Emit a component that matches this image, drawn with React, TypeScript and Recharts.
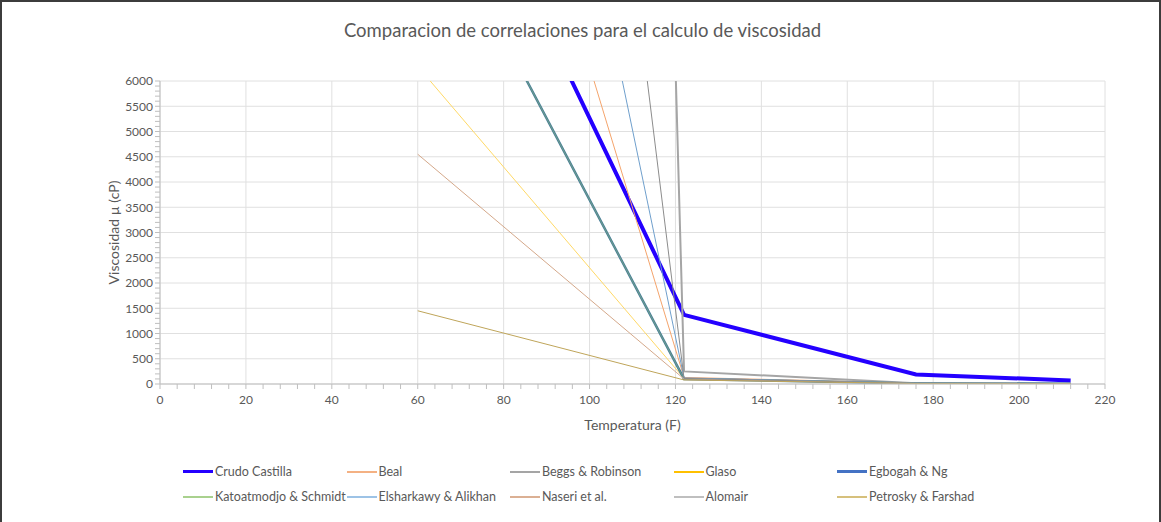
import React from 'react';
import { LineChart, Line, XAxis, YAxis, CartesianGrid } from 'recharts';

const temperatures = [60, 122, 176, 212];

const crudoCastilla = [12350, 1370, 190, 70];
const beal = [17500, 130, 20, 8];
const beggsRobinson = [188000, 250, 15, 6];
const glaso = [6290, 110, 18, 7];
const egbogahNg = [10100, 100, 12, 5];
const katoatmodjoSchmidt = [10100, 100, 12, 5];
const elsharkawyAlikhan = [25500, 120, 15, 6];
const naseri = [4550, 100, 10, 4];
const alomair = [42800, 110, 14, 5];
const petroskyFarshad = [1450, 80, 10, 4];

const xTicks = Array.from({ length: 56 }, (_, i) => i * 4);
const yTicks = Array.from({ length: 61 }, (_, i) => i * 100);
const xMajor = [0, 20, 40, 60, 80, 100, 120, 140, 160, 180, 200, 220];
const yMajor = [0, 500, 1000, 1500, 2000, 2500, 3000, 3500, 4000, 4500, 5000, 5500, 6000];

const series = [
  { key: 'crudo', name: 'Crudo Castilla', values: crudoCastilla, color: '#2400ff', legendColor: '#2400ff', width: 4 },
  { key: 'beal', name: 'Beal', values: beal, color: '#f4a46c', legendColor: '#f4b183', width: 1 },
  { key: 'beggs', name: 'Beggs & Robinson', values: beggsRobinson, color: '#a5a5a5', legendColor: '#a5a5a5', width: 2 },
  { key: 'glaso', name: 'Glaso', values: glaso, color: '#ffd966', legendColor: '#ffc000', width: 1 },
  { key: 'egbogah', name: 'Egbogah & Ng', values: egbogahNg, color: '#4a7f9a', legendColor: '#4472c4', width: 2.5 },
  { key: 'katoatmodjo', name: 'Katoatmodjo & Schmidt', values: katoatmodjoSchmidt, color: '#6f9f8a', legendColor: '#a9d18e', width: 1 },
  { key: 'elsharkawy', name: 'Elsharkawy & Alikhan', values: elsharkawyAlikhan, color: '#6f9fcc', legendColor: '#9dc3e6', width: 1 },
  { key: 'naseri', name: 'Naseri et al.', values: naseri, color: '#d4a88a', legendColor: '#dbb094', width: 1 },
  { key: 'alomair', name: 'Alomair', values: alomair, color: '#8c8c8c', legendColor: '#bfbfbf', width: 1 },
  { key: 'petrosky', name: 'Petrosky & Farshad', values: petroskyFarshad, color: '#bfa55a', legendColor: '#d6c07c', width: 1 },
];

const data = temperatures.map((t, i) => {
  const row: Record<string, number> = { t };
  series.forEach((s) => {
    row[s.key] = s.values[i];
  });
  return row;
});

const FONT = 'Lato, "Open Sans", sans-serif';
const TEXT = '#595959';

export default function App() {
  return (
    <div
      style={{
        position: 'absolute',
        left: 0,
        top: 0,
        width: 1161,
        height: 522,
        background: '#fff',
        boxSizing: 'border-box',
        borderTop: '2px solid #3c3c3c',
        borderLeft: '2px solid #3c3c3c',
        borderRight: '2px solid #3c3c3c',
        fontFamily: FONT,
        overflow: 'hidden',
      }}
    >
      <div
        style={{
          position: 'absolute',
          top: 17,
          left: 0,
          width: 1161,
          textAlign: 'center',
          fontSize: 18.5,
          color: TEXT,
        }}
      >
        Comparacion de correlaciones para el calculo de viscosidad
      </div>
      <div style={{ position: 'absolute', left: -2, top: -2 }}>
        <LineChart
          width={1161}
          height={522}
          data={data}
          margin={{ top: 81, right: 56, left: 100, bottom: 108 }}
        >
          <CartesianGrid
            stroke="#e0e0e0"
            verticalCoordinatesGenerator={({ xAxis, offset }: any) =>
              xMajor.map((v) =>
                typeof xAxis?.scale === 'function'
                  ? xAxis.scale(v)
                  : offset.left + (offset.width * v) / 220
              )
            }
            horizontalCoordinatesGenerator={({ yAxis, offset }: any) =>
              yMajor.map((v) =>
                typeof yAxis?.scale === 'function'
                  ? yAxis.scale(v)
                  : offset.top + offset.height * (1 - v / 6000)
              )
            }
          />
          <XAxis
            dataKey="t"
            type="number"
            domain={[0, 220]}
            ticks={xTicks}
            interval={0}
            tickFormatter={(v: number) => (v % 20 === 0 ? String(v) : '')}
            stroke="#bfbfbf"
            tickSize={5}
            tickMargin={6}
            tick={{ fill: TEXT, fontSize: 12, fontFamily: FONT }}
            height={30}
            label={{ value: 'Temperatura (F)', position: 'insideBottom', offset: -16, fill: TEXT, fontSize: 14, fontFamily: FONT }}
          />
          <YAxis
            type="number"
            domain={[0, 6000]}
            allowDataOverflow
            ticks={yTicks}
            interval={0}
            tickFormatter={(v: number) => (v % 500 === 0 ? String(v) : '')}
            stroke="#bfbfbf"
            tickSize={5}
            tick={{ fill: TEXT, fontSize: 12, fontFamily: FONT }}
            width={60}
            label={{ value: 'Viscosidad µ (cP)', angle: -90, position: 'insideLeft', offset: 14, fill: TEXT, fontSize: 14, fontFamily: FONT, style: { textAnchor: 'middle' } }}
          />
          {series.map((s) => (
            <Line
              key={s.key}
              type="linear"
              dataKey={s.key}
              name={s.name}
              stroke={s.color}
              strokeWidth={s.width}
              dot={false}
              activeDot={false}
              isAnimationActive={false}
            />
          ))}
        </LineChart>
      </div>
      <div
        style={{
          position: 'absolute',
          left: 181,
          top: 461,
          width: 900,
          display: 'grid',
          gridTemplateColumns: 'repeat(5, 163.5px)',
          rowGap: 8,
          fontSize: 12.5,
          color: TEXT,
        }}
      >
        {series.map((s) => (
          <div key={s.key} style={{ display: 'flex', alignItems: 'center', height: 17, whiteSpace: 'nowrap' }}>
            <span
              style={{
                display: 'inline-block',
                width: 30,
                height: Math.max(2, Math.min(s.width, 3)),
                background: s.legendColor,
                marginRight: 2,
              }}
            />
            {s.name}
          </div>
        ))}
      </div>
    </div>
  );
}
